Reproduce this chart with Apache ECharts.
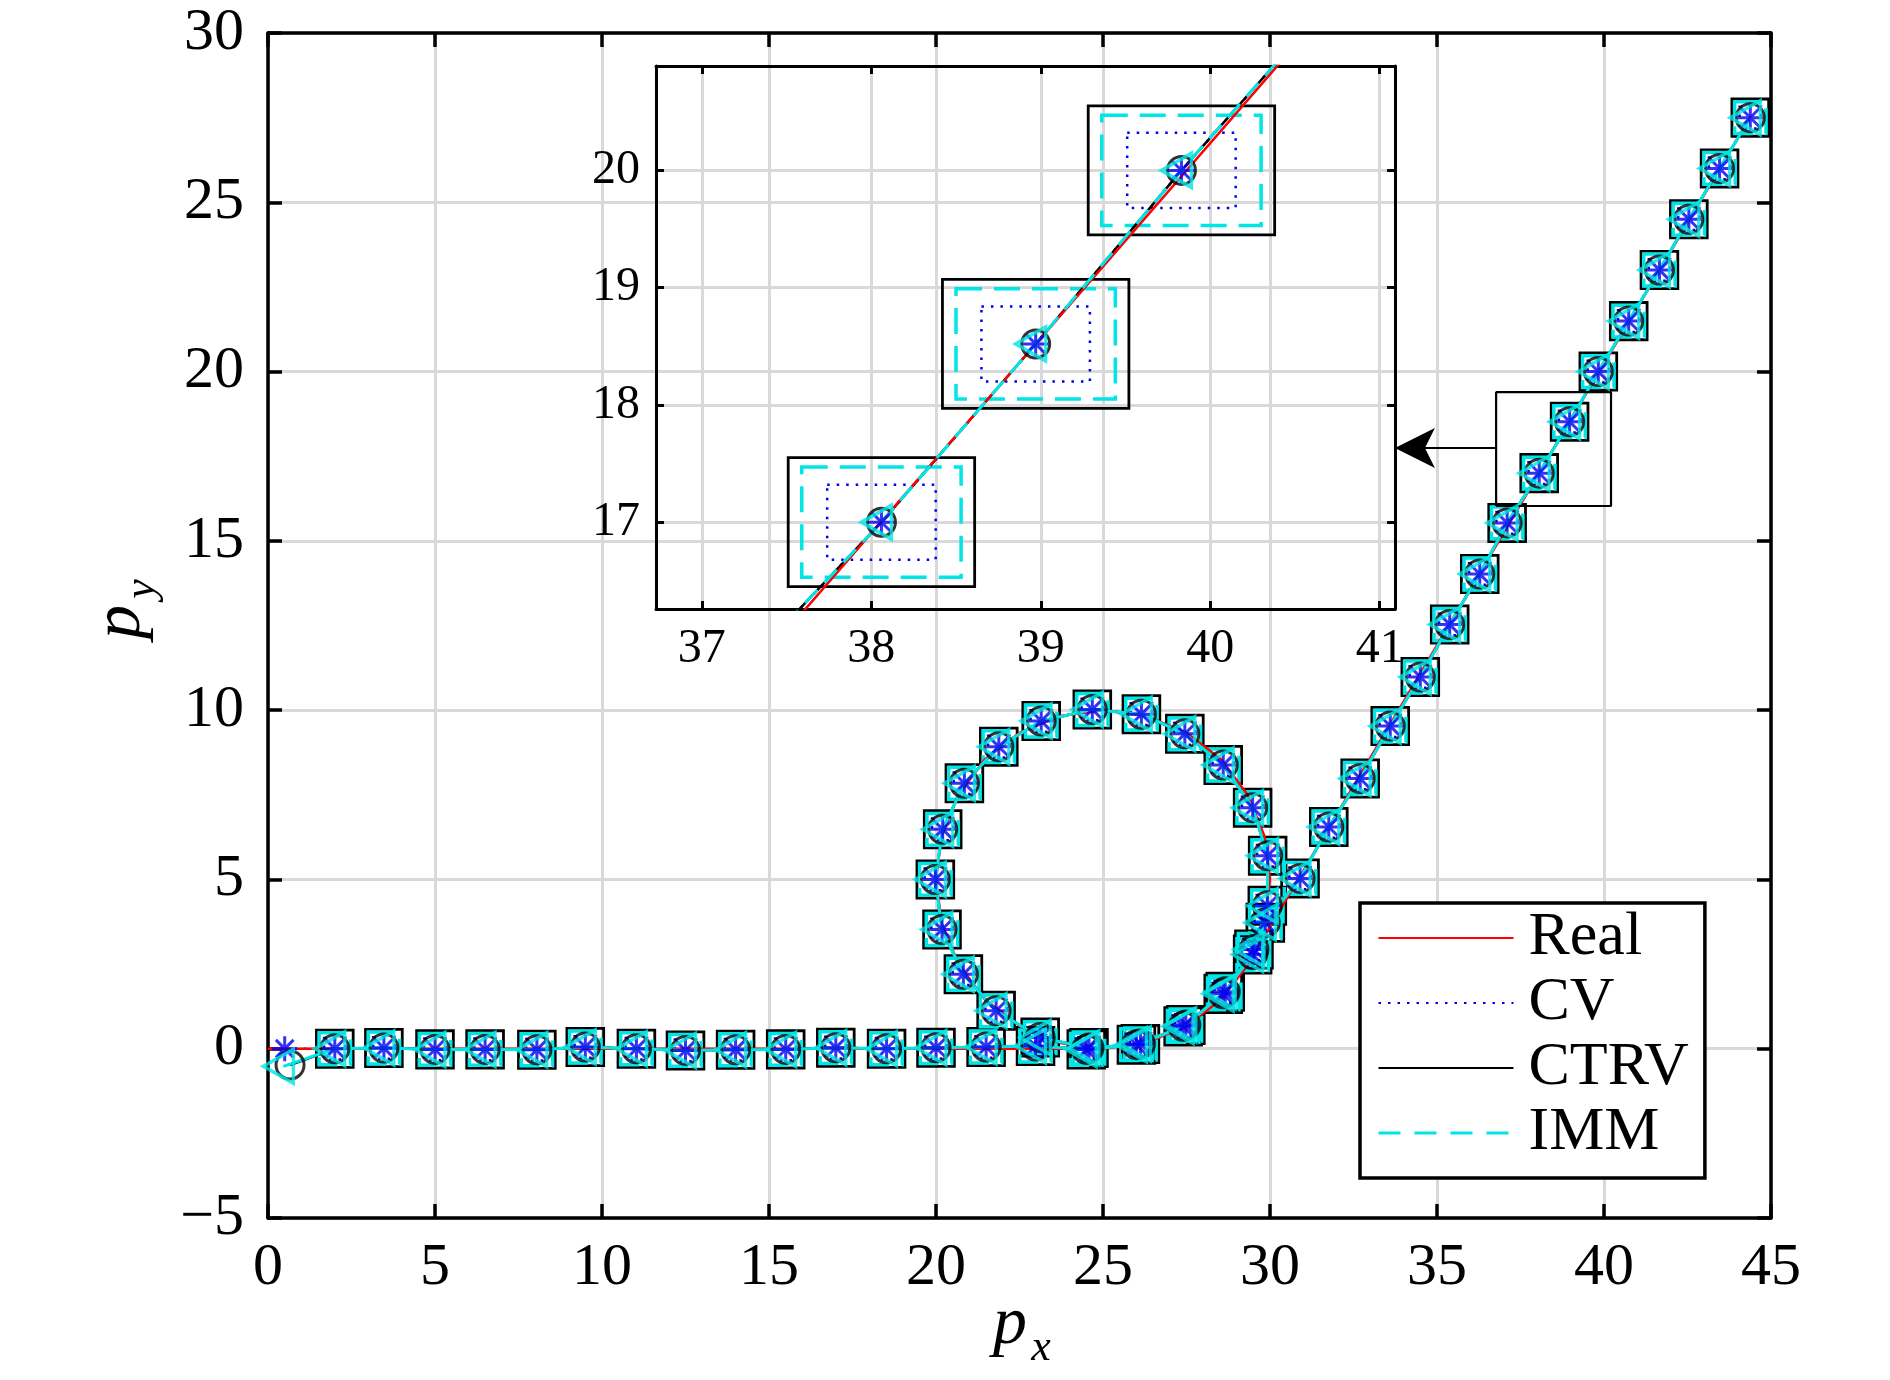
<!DOCTYPE html>
<html>
<head>
<meta charset="utf-8">
<script src="https://cdn.jsdelivr.net/npm/echarts@6/dist/echarts.min.js"></script>
<style>
html, body { margin: 0; padding: 0; background: #fff; }
#main { width: 1890px; height: 1380px; }
</style>
</head>
<body>
<div id="main"></div>
<script>
var FONT = '"Liberation Serif", "Times New Roman", serif';

// Real trajectory
var realX = [0, 25, 26.29, 27.5, 28.54, 29.33, 29.83, 30, 29.83, 29.33, 28.54, 27.5, 26.29, 25, 23.71, 22.5, 21.46, 20.67, 20.17, 20, 20.17, 20.67, 21.46, 22.5, 23.71, 25, 26.29, 27.5, 28.54, 29.29, 44.4];
var realY = [0, 0, 0.17, 0.67, 1.46, 2.5, 3.71, 5, 6.29, 7.5, 8.54, 9.33, 9.83, 10, 9.83, 9.33, 8.54, 7.5, 6.29, 5, 3.71, 2.5, 1.46, 0.67, 0.17, 0, 0.17, 0.67, 1.46, 2.42, 27.55];

// first estimate of each filter
var cvStart = [0.5, 0.0];
var ctrvStart = [0.66, -0.48];
var immStart = [0.46, -0.52];

// estimated track (CV / CTRV / IMM nearly coincide from step 2 on)
var trackX = [2.0, 3.47, 5.0, 6.5, 8.05, 9.5, 11.03, 12.5, 14.0, 15.5, 17.0, 18.52, 20.0, 21.5, 22.98, 24.5,
  26.0, 27.4, 28.6, 29.48, 29.92, 29.93, 29.48, 28.6, 27.45, 26.15, 24.68, 23.15, 21.88, 20.85, 20.2, 19.98, 20.18, 20.82, 21.8, 23.12, 24.58,
  26.12, 27.48, 28.66, 29.52, 29.86,
  30.9, 31.76, 32.7, 33.6, 34.5, 35.38, 36.28, 37.1, 38.06, 38.97, 39.83, 40.74, 41.66, 42.54, 43.46, 44.38];
var trackY = [0.0, 0.02, -0.02, -0.02, -0.03, 0.05, 0.0, -0.05, -0.03, -0.02, 0.03, 0.0, 0.03, 0.05, 0.08, -0.02,
  0.12, 0.66, 1.62, 2.78, 4.22, 5.7, 7.12, 8.38, 9.3, 9.88, 10.02, 9.68, 8.92, 7.84, 6.48, 5.0, 3.52, 2.2, 1.12, 0.33, 0.02,
  0.14, 0.7, 1.68, 2.93, 3.72,
  5.03, 6.55, 7.98, 9.53, 10.98, 12.53, 14.02, 15.53, 17.0, 18.52, 20.0, 21.49, 23.0, 24.5, 26.0, 27.5];

// half size of the error boxes
var CV_BOX = 0.32;
var IMM_BOX = 0.47;
var CTRV_BOX = 0.55;

// zoomed window and arrow
var zoomX = [36.77, 40.21, 40.21, 36.77, 36.77];
var zoomY = [16.03, 16.03, 19.39, 19.39, 16.03];
var arrowFrom = [36.77, 17.74];
var arrowTo = [33.74, 17.74];

function pts(xs, ys) {
    return xs.map(function (x, i) { return [x, ys[i]]; });
}
var realPts = pts(realX, realY);
var trackPts = pts(trackX, trackY);
var cvPts = [cvStart].concat(trackPts);
var ctrvPts = [ctrvStart].concat(trackPts);
var immPts = [immStart].concat(trackPts);

var BLUE = '#0000ee', CYAN = '#00e5e5', RED = '#ff0000';

function boxRender(h, color, width, dash) {
    return function (params, api) {
        var x = api.value(0), y = api.value(1);
        var p0 = api.coord([x - h, y + h]);
        var p1 = api.coord([x + h, y - h]);
        return {
            type: 'rect',
            shape: {x: p0[0], y: p0[1], width: p1[0] - p0[0], height: p1[1] - p0[1]},
            style: {fill: 'none', stroke: color, lineWidth: width, lineDash: dash}
        };
    };
}

function layer(idx, inset) {
    var base = {xAxisIndex: idx, yAxisIndex: idx, animation: false, silent: true};
    var s = [];
    s.push(Object.assign({type: 'custom', z: 2, clip: true, encode: {x: 0, y: 1}, data: trackPts,
        renderItem: boxRender(CTRV_BOX, '#000', 2.8, null)}, base));
    s.push(Object.assign({type: 'custom', z: 2, clip: true, encode: {x: 0, y: 1}, data: trackPts,
        renderItem: boxRender(IMM_BOX, CYAN, 3.5, [26, 12])}, base));
    s.push(Object.assign({type: 'custom', z: 2, clip: true, encode: {x: 0, y: 1}, data: trackPts,
        renderItem: boxRender(CV_BOX, BLUE, 2.5, [2.5, 7])}, base));
    s.push(Object.assign({name: 'CV', type: 'line', z: 3, data: cvPts, symbol: 'none',
        lineStyle: {color: BLUE, width: 2.5, type: [2.5, 7]}}, base));
    s.push(Object.assign({name: 'CTRV', type: 'line', z: 3, data: ctrvPts, symbol: 'none',
        lineStyle: {color: '#000', width: 2.5}}, base));
    s.push(Object.assign({name: 'Real', type: 'line', z: 3, data: realPts, symbol: 'none',
        lineStyle: {color: RED, width: 2.5}}, base));
    s.push(Object.assign({name: 'IMM', type: 'line', z: 3, data: immPts, symbol: 'none',
        lineStyle: {color: CYAN, width: 3, type: inset ? [18, 10] : 'solid'}}, base));
    s.push(Object.assign({type: 'scatter', z: 4, data: ctrvPts, symbol: 'circle', symbolSize: 28,
        itemStyle: {color: 'rgba(0,0,0,0)', borderColor: '#000', borderWidth: 3}}, base));
    s.push(Object.assign({type: 'scatter', z: 4, data: cvPts, symbolSize: 25,
        symbol: 'path://M10 0L10 20M0 10L20 10M2.93 2.93L17.07 17.07M17.07 2.93L2.93 17.07',
        itemStyle: {color: 'rgba(0,0,0,0)', borderColor: BLUE, borderWidth: 3}}, base));
    s.push(Object.assign({type: 'scatter', z: 5, data: immPts, symbol: 'triangle', symbolRotate: 90,
        symbolSize: [34, 30], symbolOffset: [-5, 0],
        itemStyle: {color: 'rgba(0,0,0,0)', borderColor: CYAN, borderWidth: 3.5}}, base));
    return s;
}

var series = layer(0, false).concat(layer(2, true));
series.push({
    type: 'line', xAxisIndex: 0, yAxisIndex: 0, animation: false, silent: true, z: 5,
    data: pts(zoomX, zoomY), symbol: 'none',
    lineStyle: {color: '#000', width: 2.2},
    markLine: {
        silent: true, animation: false,
        symbol: ['none', 'arrow'], symbolSize: [30, 40],
        label: {show: false},
        lineStyle: {color: '#000', width: 2.2, type: 'solid'},
        data: [[{coord: arrowFrom}, {coord: arrowTo}]]
    }
});

function minus(v) {
    return v < 0 ? '\u2212' + (-v) : String(v);
}

var gridLine = {show: true, lineStyle: {color: '#d9d9d9', width: 3}};

function mkAxis(grid, pos, lim, big, labels) {
    var ax = {
        gridIndex: grid, type: 'value', position: pos,
        min: lim[0], max: lim[1],
        axisLine: {show: true, onZero: false, lineStyle: {color: '#000', width: big ? 3.5 : 3}},
        axisTick: {show: true, inside: true, length: big ? 14 : 8, lineStyle: {color: '#000', width: big ? 3.5 : 3}},
        axisLabel: {show: labels, color: '#000', fontFamily: FONT, fontSize: big ? 60 : 48, formatter: minus},
        splitLine: labels ? gridLine : {show: false}
    };
    if (big) {
        ax.interval = 5;
    } else {
        ax.minInterval = 1;
        ax.maxInterval = 1;
        ax.axisLabel.showMinLabel = false;
        ax.axisLabel.showMaxLabel = false;
    }
    return ax;
}

var xAxis = [
    mkAxis(0, 'bottom', [0, 45], true, true),
    mkAxis(0, 'top', [0, 45], true, false),
    mkAxis(1, 'bottom', [36.73, 41.09], false, true),
    mkAxis(1, 'top', [36.73, 41.09], false, false)
];
var yAxis = [
    mkAxis(0, 'left', [-5, 30], true, true),
    mkAxis(0, 'right', [-5, 30], true, false),
    mkAxis(1, 'left', [16.26, 20.89], false, true),
    mkAxis(1, 'right', [16.26, 20.89], false, false)
];
xAxis[0].axisLabel.margin = 20;
yAxis[0].axisLabel.margin = 24;
xAxis[2].axisLabel.margin = 16;
yAxis[2].axisLabel.margin = 16;

var noDot = {opacity: 0};

var myChart = echarts.init(document.getElementById('main'));
var option = {
    backgroundColor: '#fff',
    animation: false,
    grid: [
        {left: 268, top: 33, width: 1503, height: 1185},
        {left: 656, top: 66, width: 739, height: 543}
    ],
    xAxis: xAxis,
    yAxis: yAxis,
    legend: {
        orient: 'vertical', left: 1360, top: 903,
        data: [
            {name: 'Real', itemStyle: noDot},
            {name: 'CV', itemStyle: noDot},
            {name: 'CTRV', itemStyle: noDot},
            {name: 'IMM', itemStyle: noDot, lineStyle: {type: [22, 14], width: 3}}
        ],
        itemStyle: noDot,
        itemWidth: 135, itemHeight: 20, itemGap: 3,
        padding: [4, 16, 14, 17],
        borderColor: '#000', borderWidth: 3.5, backgroundColor: '#fff',
        selectedMode: false,
        textStyle: {fontFamily: FONT, fontSize: 62, color: '#000', lineHeight: 60, padding: [0, 0, 0, 10]}
    },
    graphic: [
        {type: 'text', x: 1010, y: 1325, silent: true,
            style: {text: 'p', font: 'italic 68px ' + FONT, fill: '#000', align: 'center', verticalAlign: 'middle'}},
        {type: 'text', x: 1041, y: 1348, silent: true,
            style: {text: 'x', font: 'italic 44px ' + FONT, fill: '#000', align: 'center', verticalAlign: 'middle'}},
        {type: 'group', x: 121, y: 622, rotation: Math.PI / 2, silent: true, children: [
            {type: 'text', x: 0, y: 0,
                style: {text: 'p', font: 'italic 68px ' + FONT, fill: '#000', align: 'center', verticalAlign: 'middle'}},
            {type: 'text', x: 33, y: 21,
                style: {text: 'y', font: 'italic 44px ' + FONT, fill: '#000', align: 'center', verticalAlign: 'middle'}}
        ]}
    ],
    series: series
};
myChart.setOption(option);
</script>
</body>
</html>
